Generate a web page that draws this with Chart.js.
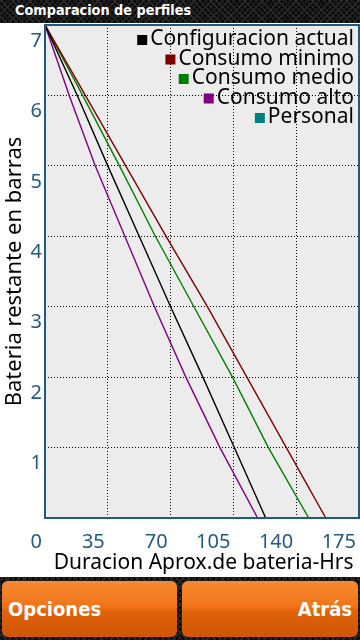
<!DOCTYPE html>
<html>
<head>
<meta charset="utf-8">
<script src="https://cdn.jsdelivr.net/npm/chart.js@4.4.1/dist/chart.umd.min.js"></script>
<style>
  html, body { margin: 0; padding: 0; background: #fff; }
  body { width: 360px; height: 640px; position: relative; overflow: hidden; font-family: "Noto Sans", sans-serif; }
  .barra {
    position: absolute; left: 0; width: 360px;
    background-color: #0c0c0c;
    background-image:
      repeating-linear-gradient(45deg, #2b2b2b 0 1px, transparent 1px 4px),
      repeating-linear-gradient(-45deg, #2b2b2b 0 1px, transparent 1px 4px);
  }
  #cabecera { top: 0; height: 23px; }
  #cabecera span { position: absolute; left: 15px; top: 0px; color: #fff; font-size: 14.3px; line-height: 21px; font-weight: bold; font-family: "DejaVu Sans Condensed", sans-serif; }
  #pie { top: 577px; height: 63px; }
  .boton {
    position: absolute; top: 4px; height: 56px; border-radius: 6px;
    background: linear-gradient(#f68a33, #f07417 45%, #e0620a 55%, #cf5506);
    color: #fff; font-family: "DejaVu Sans Condensed", sans-serif; font-weight: bold; font-size: 20px;
    display: flex; align-items: center; box-sizing: border-box;
  }
  #opciones { left: 2px; width: 175px; padding-left: 6px; }
  #atras { left: 182px; width: 176px; justify-content: flex-end; padding-right: 6px; }
  #grafico { position: absolute; left: 0; top: 22px; width: 360px; height: 555px; }
</style>
</head>
<body>
<div id="cabecera" class="barra"><span>Comparacion de perfiles</span></div>
<div id="grafico"><canvas id="perfilesChart"></canvas></div>
<div id="pie" class="barra">
  <div id="opciones" class="boton">Opciones</div>
  <div id="atras" class="boton">Atrás</div>
</div>
<script>
// barras restantes (eje y) y horas leidas para cada perfil (eje x)
const barras = [7, 6, 5, 4, 3, 2, 1, 0];
const horasActual = [0, 18, 35, 52.5, 70, 88, 105.5, 123];
const horasMinimo = [0, 22.5, 45, 67.5, 90.5, 112.5, 134.5, 156.5];
const horasMedio = [0, 21, 41.5, 61.5, 83, 104.5, 124.5, 147];
const horasAlto = [0, 13.5, 28, 44.5, 61, 78.5, 97.5, 118.5];
const horasPersonal = [];

const perfiles = ['Configuracion actual', 'Consumo minimo', 'Consumo medio', 'Consumo alto', 'Personal'];
const colores = ['#000000', '#800000', '#008000', '#800080', '#008080'];
const series = [horasActual, horasMinimo, horasMedio, horasAlto, horasPersonal];

const colorEje = '#1f5b80';

function puntos(horas) {
  return horas.map((h, i) => ({ x: h, y: barras[i] }));
}

// fondo gris y marco del area de dibujo
const marcoPlugin = {
  id: 'marco',
  beforeDraw(chart) {
    const { ctx, chartArea: a } = chart;
    ctx.save();
    ctx.fillStyle = '#ececec';
    ctx.fillRect(a.left, a.top, a.right - a.left, a.bottom - a.top);
    ctx.restore();
  },
  afterDraw(chart) {
    const { ctx, chartArea: a } = chart;
    ctx.save();
    ctx.strokeStyle = colorEje;
    ctx.lineWidth = 2;
    ctx.strokeRect(a.left, a.top, a.right - a.left, a.bottom - a.top);
    ctx.restore();
  }
};

// leyenda alineada a la derecha dentro del area
const leyendaPlugin = {
  id: 'leyendaDerecha',
  afterDraw(chart) {
    const { ctx, chartArea: a } = chart;
    ctx.save();
    ctx.font = '21px "Noto Sans"';
    ctx.textAlign = 'right';
    ctx.textBaseline = 'alphabetic';
    chart.data.datasets.forEach((ds, i) => {
      const y = a.top + 20 + i * 19.5;
      const xTexto = a.right - 5;
      const ancho = ctx.measureText(ds.label).width;
      ctx.fillStyle = '#000';
      ctx.fillText(ds.label, xTexto, y);
      ctx.fillStyle = ds.borderColor;
      ctx.fillRect(xTexto - ancho - 13, y - 10, 10, 10);
    });
    ctx.restore();
  }
};

const ctx = document.getElementById('perfilesChart').getContext('2d');
const perfilesChart = new Chart(ctx, {
  type: 'line',
  data: {
    datasets: perfiles.map((nombre, i) => ({
      label: nombre,
      data: puntos(series[i]),
      borderColor: colores[i],
      backgroundColor: colores[i],
      borderWidth: 1.4,
      pointRadius: 0,
      fill: false,
      tension: 0
    }))
  },
  options: {
    responsive: true,
    maintainAspectRatio: false,
    animation: false,
    layout: { padding: { top: 3, right: 1, left: 0, bottom: 0 } },
    plugins: {
      legend: { display: false },
      tooltip: { enabled: false }
    },
    scales: {
      x: {
        type: 'linear',
        min: 0,
        max: 175,
        afterFit: (scale) => { scale.height = 59; },
        ticks: {
          stepSize: 35,
          align: 'end',
          labelOffset: -3,
          padding: 0,
          maxRotation: 0,
          color: colorEje,
          font: { family: 'Noto Sans', size: 20 }
        },
        grid: { color: '#000', lineWidth: 1, drawTicks: true, tickLength: 12, tickColor: 'rgba(0,0,0,0)' },
        border: { display: false, dash: [1, 2] },
        title: {
          display: true,
          text: 'Duracion Aprox.de bateria-Hrs ',
          align: 'end',
          color: '#000',
          padding: { top: 0, bottom: 1 },
          font: { family: 'Noto Sans', size: 21 }
        }
      },
      y: {
        min: 0,
        max: 7,
        afterFit: (scale) => { scale.width = 45; },
        ticks: {
          stepSize: 1,
          align: 'start',
          labelOffset: 6,
          padding: 3,
          color: colorEje,
          font: { family: 'Noto Sans', size: 20 },
          callback: (v) => v === 0 ? '' : v
        },
        grid: { color: '#000', lineWidth: 1, drawTicks: false },
        border: { display: false, dash: [1, 2] },
        title: {
          display: true,
          text: 'Bateria restante en barras',
          color: '#000',
          padding: { top: 2 },
          font: { family: 'Noto Sans', size: 22 }
        }
      }
    }
  },
  plugins: [marcoPlugin, leyendaPlugin]
});
</script>
</body>
</html>
